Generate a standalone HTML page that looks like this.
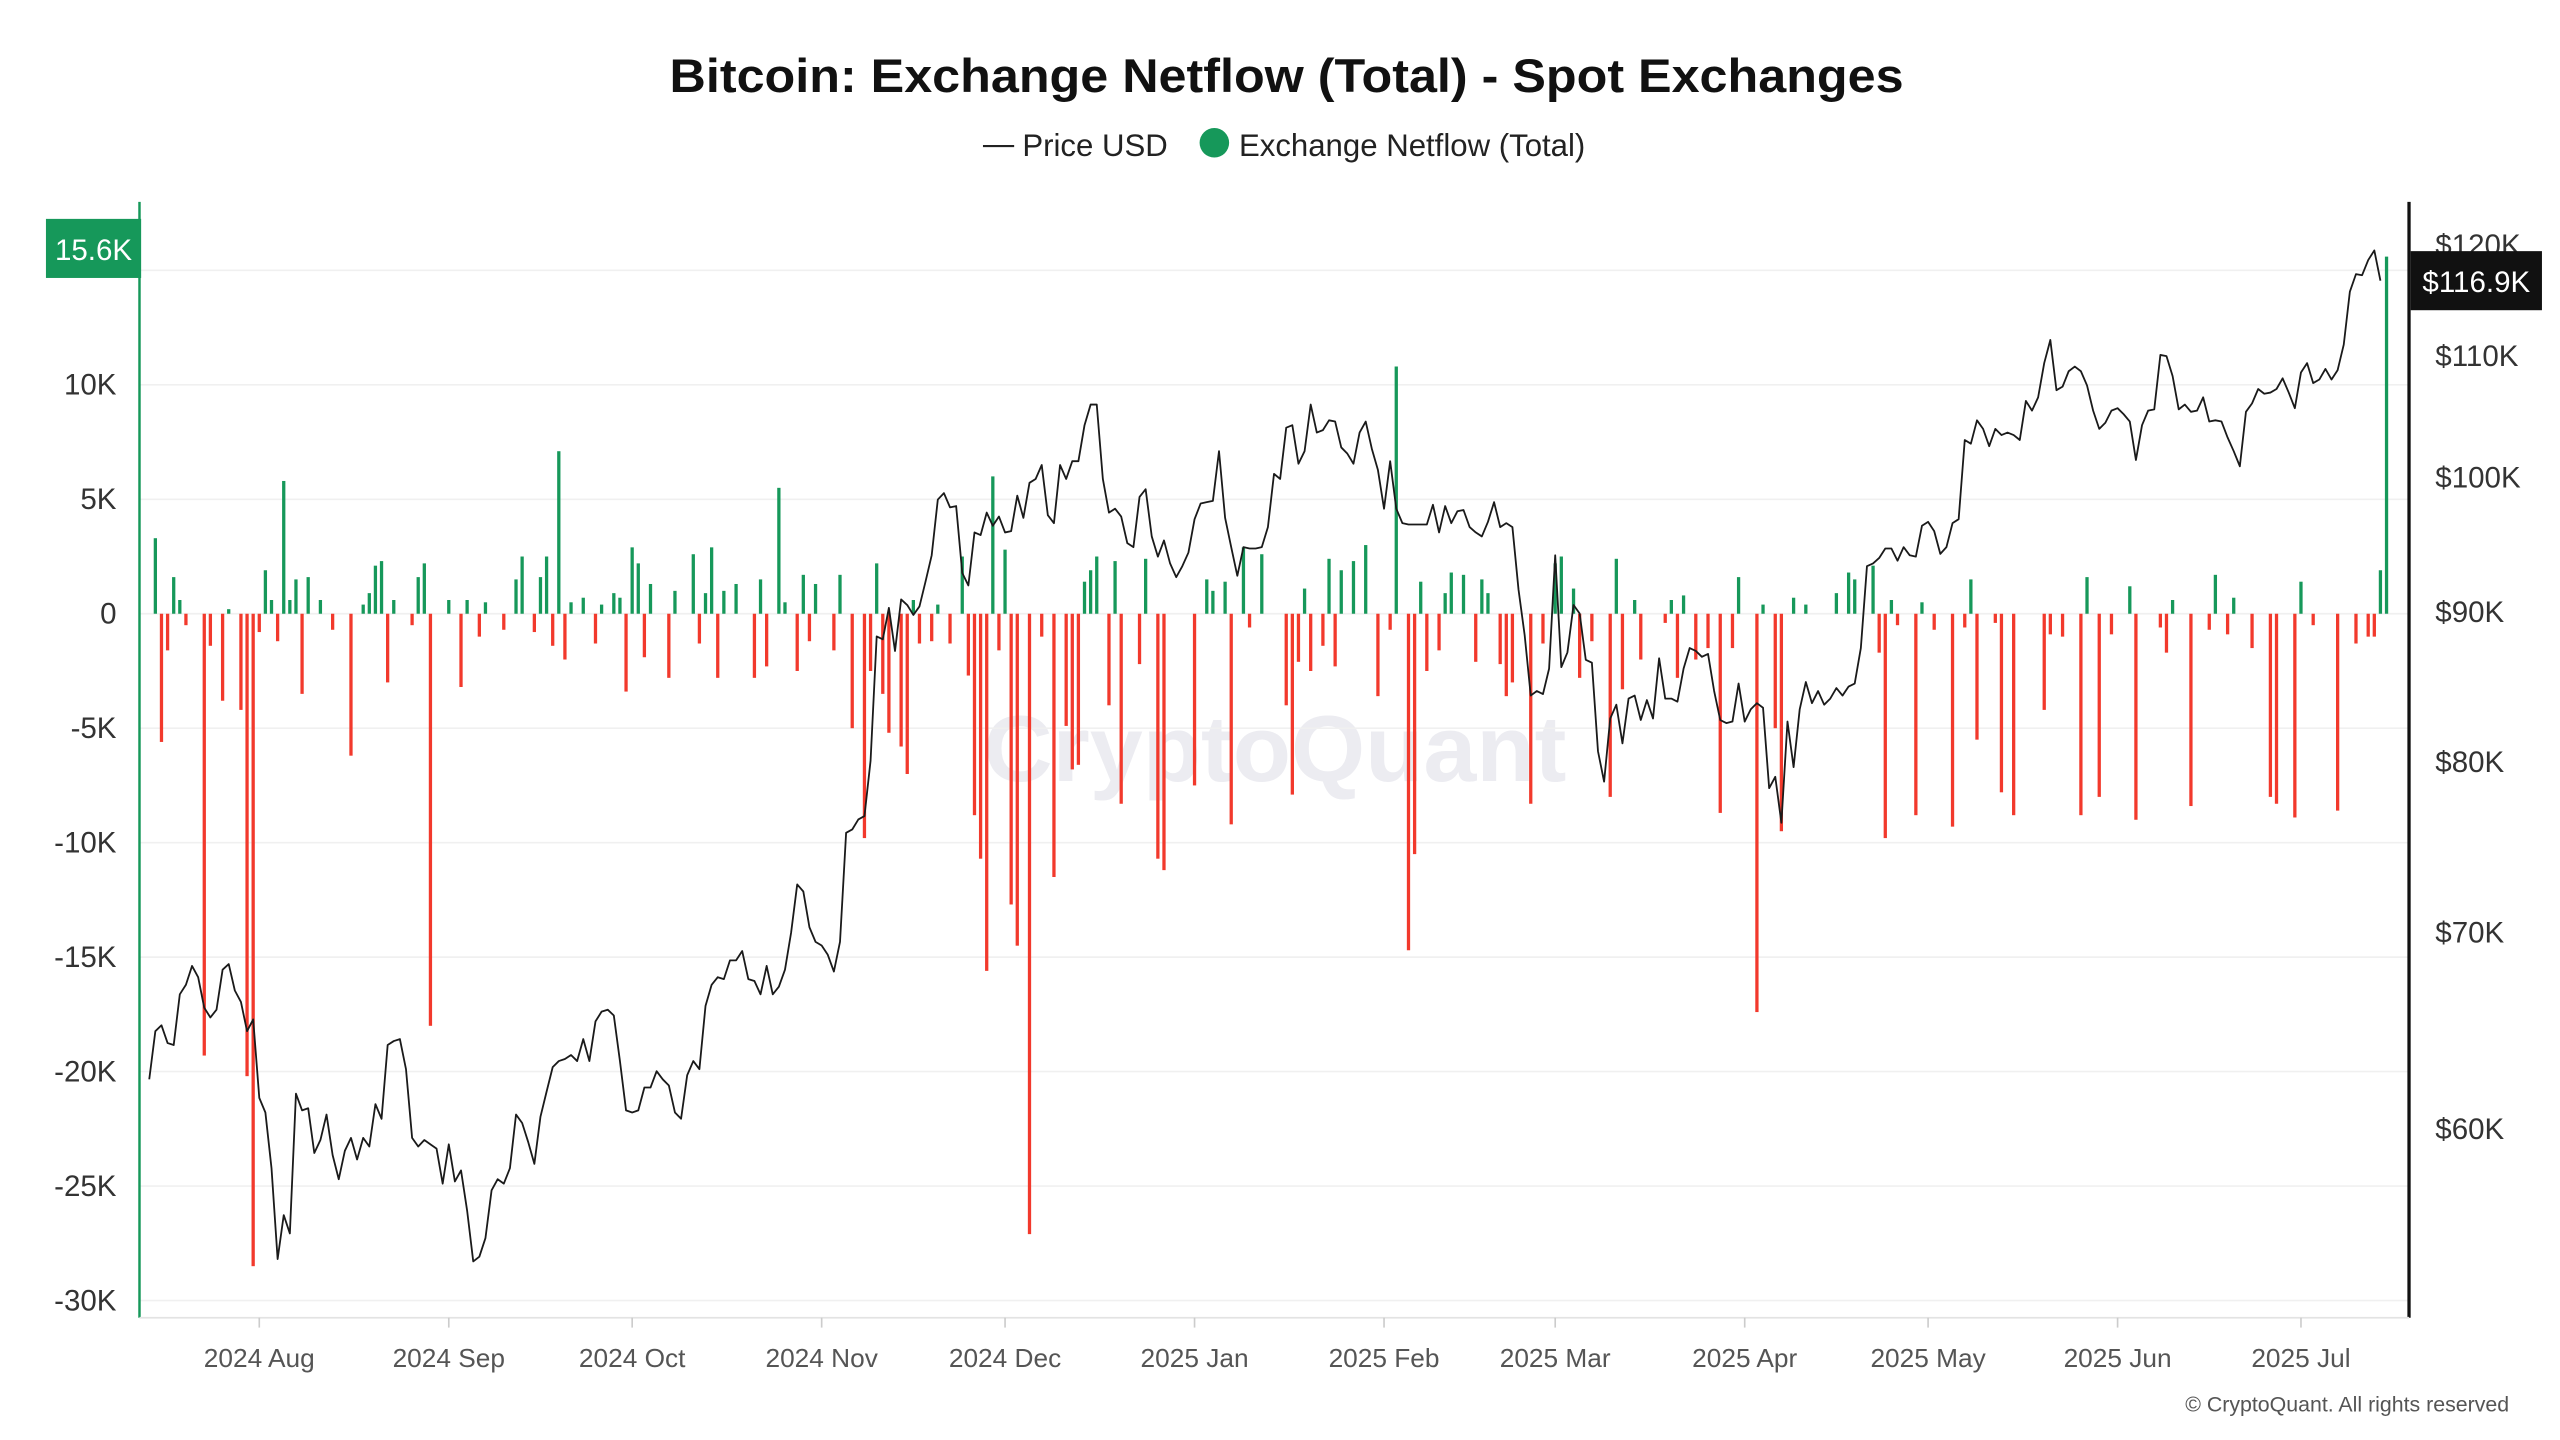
<!DOCTYPE html>
<html><head><meta charset="utf-8">
<style>
html,body{margin:0;padding:0;background:#fff;}
svg{display:block;}
text{font-family:"Liberation Sans",sans-serif;}
</style></head>
<body>
<svg id="chart" xmlns="http://www.w3.org/2000/svg" width="2560" height="1440" viewBox="0 0 1560 877.5">
<rect width="1560" height="877.5" fill="#fff"/>
<text x="784" y="56" text-anchor="middle" font-size="29" font-weight="bold" fill="#111" textLength="752" lengthAdjust="spacingAndGlyphs">Bitcoin: Exchange Netflow (Total) - Spot Exchanges</text>
<g>
<g><line x1="599" y1="89" x2="618" y2="89" stroke="#222" stroke-width="1.3"/><text x="623" y="95" font-size="19" fill="#222">Price USD</text></g>
<g><circle cx="740" cy="87" r="9" fill="#16985a"/><text x="755" y="95" font-size="19" fill="#222">Exchange Netflow (Total)</text></g>
</g>
<text x="777" y="476" text-anchor="middle" font-size="57" font-weight="bold" fill="#ececf1" textLength="355" lengthAdjust="spacingAndGlyphs">CryptoQuant</text>
<g id="grid"></g>
<g id="bars"></g>
<g id="line"></g>
<g id="axes"></g>
<text x="1529" y="860" text-anchor="end" font-size="13" fill="#555">© CryptoQuant. All rights reserved</text>
</svg>
<script>
const flowDays=[1,2,3,4,5,6,9,10,12,13,15,16,17,18,19,20,21,22,23,24,25,26,28,30,33,35,36,37,38,39,40,43,44,45,46,49,51,52,54,55,58,60,61,63,64,65,66,67,68,69,71,73,74,76,77,78,79,80,81,82,85,86,89,90,91,92,93,94,96,99,100,101,103,104,106,107,108,109,112,113,115,117,118,119,120,121,123,124,125,126,128,129,131,133,134,135,136,137,138,139,140,141,142,144,146,148,150,151,152,153,154,155,157,158,159,162,163,165,166,171,173,174,176,177,179,180,182,186,187,188,189,190,192,193,194,195,197,199,201,203,204,206,207,208,209,211,212,213,215,217,218,219,221,222,223,226,228,230,231,233,234,236,239,240,241,243,244,248,249,250,251,253,255,257,259,260,263,264,266,267,269,271,276,278,279,282,283,284,285,286,289,290,292,295,297,298,299,302,303,305,310,311,313,316,317,319,321,324,325,329,330,331,334,337,338,340,341,344,347,348,351,352,354,358,361,363,364,365,366];
const flowValues=[3.3,-5.6,-1.6,1.6,0.6,-0.5,-19.3,-1.4,-3.8,0.2,-4.2,-20.2,-28.5,-0.8,1.9,0.6,-1.2,5.8,0.6,1.5,-3.5,1.6,0.6,-0.7,-6.2,0.4,0.9,2.1,2.3,-3,0.6,-0.5,1.6,2.2,-18,0.6,-3.2,0.6,-1,0.5,-0.7,1.5,2.5,-0.8,1.6,2.5,-1.4,7.1,-2,0.5,0.7,-1.3,0.4,0.9,0.7,-3.4,2.9,2.2,-1.9,1.3,-2.8,1,2.6,-1.3,0.9,2.9,-2.8,1,1.3,-2.8,1.5,-2.3,5.5,0.5,-2.5,1.7,-1.2,1.3,-1.6,1.7,-5,-9.8,-2.5,2.2,-3.5,-5.2,-5.8,-7,0.6,-1.3,-1.2,0.4,-1.3,2.5,-2.7,-8.8,-10.7,-15.6,6.0,-1.6,2.8,-12.7,-14.5,-27.1,-1,-11.5,-4.9,-6.8,-6.6,1.4,1.9,2.5,-4,2.3,-8.3,-2.2,2.4,-10.7,-11.2,-7.5,1.5,1,1.4,-9.2,2.9,-0.6,2.6,-4,-7.9,-2.1,1.1,-2.5,-1.4,2.4,-2.3,1.9,2.3,3,-3.6,-0.7,10.8,-14.7,-10.5,1.4,-2.5,-1.6,0.9,1.8,1.7,-2.1,1.5,0.9,-2.2,-3.6,-3,-8.3,-1.3,2.2,2.5,1.1,-2.8,-1.2,-8,2.4,-3.3,0.6,-2,-0.4,0.6,-2.8,0.8,-2,-1.5,-8.7,-1.5,1.6,-17.4,0.4,-5,-9.5,0.7,0.4,0.9,1.8,1.5,2.1,-1.7,-9.8,0.6,-0.5,-8.8,0.5,-0.7,-9.3,-0.6,1.5,-5.5,-0.4,-7.8,-8.8,-4.2,-0.9,-1,-8.8,1.6,-8,-0.9,1.2,-9,-0.6,-1.7,0.6,-8.4,-0.7,1.7,-0.9,0.7,-1.5,-8,-8.3,-8.9,1.4,-0.5,-8.6,-1.3,-1,-1,1.9,15.6];
const priceValues=[62.4,64.8,65.1,64.2,64.1,66.7,67.2,68.2,67.6,66.0,65.5,65.9,68.0,68.3,66.9,66.3,64.8,65.4,61.5,60.8,58.2,54.2,56.1,55.3,61.7,60.9,61.0,58.9,59.5,60.7,58.8,57.7,59.0,59.6,58.6,59.6,59.2,61.2,60.5,64.1,64.3,64.4,62.9,59.6,59.2,59.5,59.3,59.1,57.5,59.3,57.6,58.1,56.3,54.1,54.3,55.1,57.2,57.7,57.5,58.2,60.7,60.3,59.4,58.4,60.6,61.8,63.0,63.3,63.4,63.6,63.3,64.4,63.3,65.3,65.8,65.9,65.6,63.3,60.9,60.8,60.9,62.0,62.0,62.8,62.4,62.1,60.8,60.5,62.6,63.3,62.9,66.1,67.2,
67.6,67.5,68.5,68.5,69.0,67.5,67.4,66.7,68.2,66.7,67.1,68.0,70.0,72.7,72.3,70.3,69.5,69.3,68.8,67.9,69.5,75.7,75.9,76.5,76.7,80.1,88.3,88.1,90.3,87.3,90.9,90.5,89.8,90.4,92.2,94.1,98.3,98.8,97.7,97.8,92.8,91.9,95.8,95.6,97.3,96.3,97.0,95.8,95.9,98.6,96.9,99.6,99.9,101.0,97.1,96.5,101.0,99.9,101.3,101.3,104.2,105.9,105.9,99.9,97.3,97.6,97.0,95.0,94.7,98.5,99.1,95.5,94.0,95.2,93.5,92.5,93.3,94.3,96.8,98.0,98.1,98.2,102.1,96.9,94.7,92.6,94.7,94.6,94.6,94.7,96.2,100.3,99.9,104.0,104.2,101.1,102.1,105.9,103.6,
103.8,104.6,104.5,102.4,101.9,101.1,103.6,104.5,102.3,100.6,97.6,101.3,97.6,96.5,96.4,96.4,96.4,96.4,97.9,95.8,97.8,96.5,97.4,97.5,96.2,95.8,95.5,96.6,98.1,96.2,96.5,96.2,91.6,88.4,84.3,84.6,84.4,86.1,94.1,86.2,87.2,90.5,89.9,86.7,86.5,80.7,78.8,82.8,83.7,81.2,84.1,84.3,82.7,84.0,82.8,86.8,84.1,84.1,83.9,86.1,87.5,87.3,86.9,87.1,84.6,82.7,82.5,82.6,85.1,82.6,83.4,83.8,83.5,78.4,79.1,76.3,82.6,79.7,83.4,85.2,83.8,84.6,83.7,84.1,84.8,84.3,84.9,85.1,87.5,93.3,93.5,93.9,94.6,94.6,93.7,94.7,
94.1,94.0,96.3,96.6,95.9,94.2,94.7,96.5,96.8,103.0,102.7,104.6,103.9,102.5,103.9,103.4,103.6,103.4,103.0,106.2,105.4,106.5,109.4,111.4,107.1,107.4,108.7,109.1,108.7,107.5,105.4,103.9,104.4,105.4,105.6,105.1,104.5,101.4,104.2,105.4,105.5,110.1,110.0,108.3,105.5,105.9,105.3,105.4,106.5,104.5,104.6,104.5,103.2,102.1,100.9,105.3,106.0,107.2,106.8,106.9,107.2,108.1,106.9,105.6,108.6,109.4,107.7,108.0,108.9,108.0,108.8,111.0,115.7,117.3,117.2,118.6,119.5,116.7];
const leftTicks=[10,5,0,-5,-10,-15,-20,-25,-30];
const leftLabels=["10K","5K","0","-5K","-10K","-15K","-20K","-25K","-30K"];
const gridTicks=[15,10,5,0,-5,-10,-15,-20,-25,-30];
const rightTicks=[60,70,80,90,100,110,120];
const rightLabels=["$60K","$70K","$80K","$90K","$100K","$110K","$120K"];
const monthDays=[18,49,79,110,140,171,202,230,261,291,322,352];
const monthLabels=["2024 Aug","2024 Sep","2024 Oct","2024 Nov","2024 Dec","2025 Jan","2025 Feb","2025 Mar","2025 Apr","2025 May","2025 Jun","2025 Jul"];
const lastFlowLabel="15.6K";
const lastPriceLabel="$116.9K";

const NS="http://www.w3.org/2000/svg";
const PL=85,PR=1468,PT=123,PB=803;
function xDay(d){return 158+(d-18)*3.725;}
function yFlow(v){return 374-v*13.95;}
function yPrice(p){return 373-1790*Math.log10(p/90);}
function mk(tag,attrs,parent){const e=document.createElementNS(NS,tag);for(const k in attrs)e.setAttribute(k,attrs[k]);parent.appendChild(e);return e;}

const grid=document.getElementById('grid');
gridTicks.forEach(t=>{
  const l=mk('line',{x1:PL,x2:PR,y1:yFlow(t),y2:yFlow(t),stroke:'#f0f0f0','stroke-width':1},grid);
  
  
});

const bars=document.getElementById('bars');
flowDays.forEach((d,i)=>{
  const v=flowValues[i];
  const y0=yFlow(0),y1=yFlow(v);
  const r=mk('rect',{x:xDay(d)-1,y:Math.min(y0,y1),width:2,height:Math.max(0.6,Math.abs(y1-y0)),fill:v>=0?'#16985a':'#f2392c'},bars);
  
  
});

const lineG=document.getElementById('line');
let dstr='';
priceValues.forEach((p,i)=>{dstr+=(i?'L':'M')+xDay(i).toFixed(2)+','+yPrice(p).toFixed(2);});
const path=mk('path',{d:dstr,fill:'none',stroke:'#1a1a1a','stroke-width':1.1,'stroke-linejoin':'round'},lineG);



const axes=document.getElementById('axes');
const la=mk('line',{x1:PL,x2:PL,y1:PT,y2:PB,stroke:'#16985a','stroke-width':1.5},axes);


const ra=mk('line',{x1:PR,x2:PR,y1:PT,y2:PB,stroke:'#111','stroke-width':2},axes);


const ba=mk('line',{x1:PL,x2:PR,y1:PB,y2:PB,stroke:'#e3e3e3','stroke-width':1},axes);



leftTicks.forEach((t,i)=>{
  const tx=mk('text',{x:71,y:yFlow(t)+6,'text-anchor':'end','font-size':18,fill:'#333'},axes);
  tx.textContent=leftLabels[i];
  
  
});
rightTicks.forEach((t,i)=>{
  const tx=mk('text',{x:1484,y:yPrice(t)+6,'font-size':18,fill:'#333'},axes);
  tx.textContent=rightLabels[i];
  
  
});
monthDays.forEach((d,i)=>{
  const x=xDay(d);
  const tk=mk('line',{x1:x,x2:x,y1:PB,y2:PB+6,stroke:'#ccc','stroke-width':1},axes);
  
  
  const tx=mk('text',{x:x,y:833,'text-anchor':'middle','font-size':16,fill:'#555'},axes);
  tx.textContent=monthLabels[i];
  
  
});

const lastFlow=flowValues[flowValues.length-1];
const gt=mk('g',{},axes);


const gy=yFlow(lastFlow);
mk('rect',{x:28,y:gy-23,width:58,height:36,fill:'#16985a'},gt);
const gtx=mk('text',{x:57,y:gy+2,'text-anchor':'middle','font-size':18,fill:'#fff'},gt);
gtx.textContent=lastFlowLabel;

const lastPrice=priceValues[priceValues.length-1];
const bt=mk('g',{},axes);


const by=yPrice(lastPrice);
mk('rect',{x:1469,y:by-18,width:80,height:36,fill:'#111'},bt);
const btx=mk('text',{x:1509,y:by+7,'text-anchor':'middle','font-size':18,fill:'#fff'},bt);
btx.textContent=lastPriceLabel;
</script>
</body></html>
